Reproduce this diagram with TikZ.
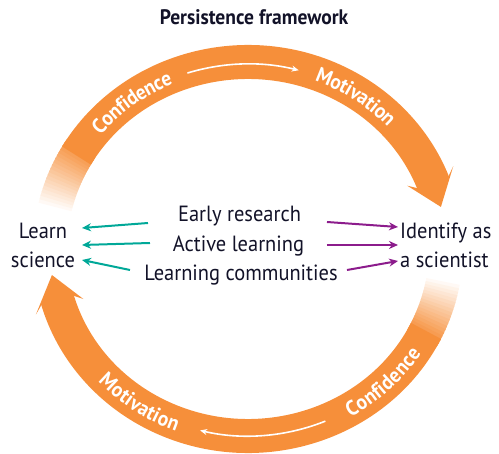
\documentclass[tikz,border=0pt]{standalone}
\usepackage{fontspec}
\setmainfont{PT Sans}[FakeStretch=0.93]
\usetikzlibrary{arrows.meta,decorations.text}

\definecolor{ringorange}{RGB}{246,143,58}
\definecolor{inkblue}{RGB}{18,18,40}
\definecolor{tealarr}{RGB}{0,168,152}
\definecolor{plum}{RGB}{140,28,140}

\def\ringfont{\fontsize{21}{21}\selectfont\bfseries\color{white}}

\tikzset{
	band/.style={line width=34pt, color=ringorange},
	ringtext/.style={decorate, decoration={text along path, text align=center, raise=-7.5pt, text={|\ringfont|#1}}},
	midtext/.style={font=\fontsize{22}{29}\selectfont, text=inkblue, inner sep=0pt},
	tealarrow/.style={draw=tealarr, line width=2pt, -{Stealth[length=9pt,width=8pt]}},
	plumarrow/.style={draw=plum, line width=2pt, -{Stealth[length=9pt,width=8pt]}},
	whitearrow/.style={draw=white, line width=1.6pt, -{Stealth[length=7pt,width=6pt]}},
}

\begin{document}
\begin{tikzpicture}[x=1pt,y=1pt]
		\useasboundingbox (-248,-205) rectangle (251,249);
		
		%%%%% upper ring %%%%%
		\foreach \t [evaluate=\t as \p using {int((168-\t)*5)}] in {168,167,...,149}
			\draw[band, color=ringorange!\p!white] (\t:198pt and 187pt) arc[start angle=\t, end angle=\t-1.6, x radius=198pt, y radius=187pt];
		\draw[band] (150:198pt and 187pt) arc[start angle=150, end angle=20.5, x radius=198pt, y radius=187pt];
		\fill[ringorange] (21:215pt and 204pt) -- (23:223pt and 212pt) -- (13:198pt and 187pt) -- (23:173pt and 162pt) -- (21:181pt and 170pt) -- cycle;
		
		\path[ringtext=Confidence] (152:198pt and 187pt) arc[start angle=152, end angle=102, x radius=198pt, y radius=187pt];
		\path[ringtext=Motivation] (82:198pt and 187pt) arc[start angle=82, end angle=30, x radius=198pt, y radius=187pt];
		\draw[whitearrow] (108:196pt and 185pt) arc[start angle=108, end angle=75, x radius=196pt, y radius=185pt];
		
		%%%%% lower ring %%%%%
		\foreach \t [evaluate=\t as \p using {int((351-\t)*100/18)}] in {351,350,...,333}
			\draw[band, color=ringorange!\p!white] (\t:198pt and 187pt) arc[start angle=\t, end angle=\t-1.6, x radius=198pt, y radius=187pt];
		\draw[band] (334:198pt and 187pt) arc[start angle=334, end angle=195.5, x radius=198pt, y radius=187pt];
		\fill[ringorange] (196:215pt and 204pt) -- (198:223pt and 212pt) -- (188:198pt and 187pt) -- (198:173pt and 162pt) -- (196:181pt and 170pt) -- cycle;
		
		\path[ringtext=Motivation] (209:198pt and 187pt) arc[start angle=209, end angle=263, x radius=198pt, y radius=187pt];
		\path[ringtext=Confidence] (288:198pt and 187pt) arc[start angle=288, end angle=340, x radius=198pt, y radius=187pt];
		\draw[whitearrow] (293:198pt and 187pt) arc[start angle=293, end angle=256, x radius=198pt, y radius=187pt];
		
		%%%%% labels %%%%%
		\node[midtext, font=\fontsize{21}{21}\selectfont\bfseries, anchor=base] (title) at (6,224) {Persistence framework};
		
		\node[midtext, anchor=base] (early) at (-8.5,27) {Early research};
		\node[midtext, anchor=base] (active) at (-9.5,-3) {Active learning};
		\node[midtext, anchor=base] (comm) at (-7,-32) {Learning communities};
		
		\node[midtext, align=center, anchor=base] (learn) at (-205,-19) {Learn\\science};
		\node[midtext, align=left, anchor=base west] (ident) at (152,-19) {Identify as\\a scientist};
		
		%%%%% arrows %%%%%
		\coordinate (early-w) at (-100,26);
		\coordinate (active-w) at (-98,6);
		\coordinate (comm-w) at (-118,-21);
		\coordinate (learn-1) at (-166,21);
		\coordinate (learn-2) at (-166,4);
		\coordinate (learn-3) at (-166,-11);
		
		\coordinate (early-e) at (79,27);
		\coordinate (active-e) at (79,4);
		\coordinate (comm-e) at (99,-21);
		\coordinate (ident-1) at (150,22);
		\coordinate (ident-2) at (150,4);
		\coordinate (ident-3) at (150,-12);
		
		\draw[tealarrow] (early-w) -- (learn-1);
		\draw[tealarrow] (active-w) -- (learn-2);
		\draw[tealarrow] (comm-w) -- (learn-3);
		
		\draw[plumarrow] (early-e) -- (ident-1);
		\draw[plumarrow] (active-e) -- (ident-2);
		\draw[plumarrow] (comm-e) -- (ident-3);
		
	\end{tikzpicture}
\end{document}
